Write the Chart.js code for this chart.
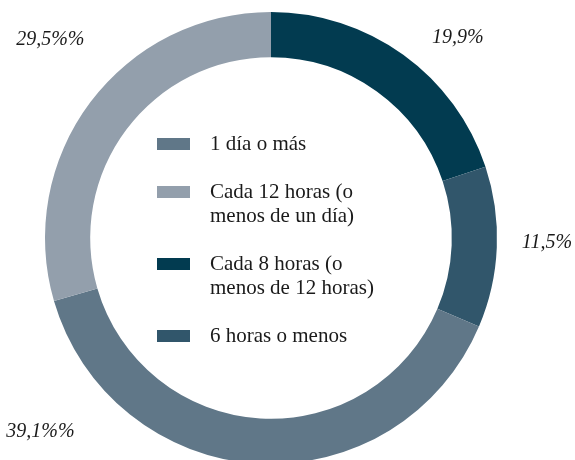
<!DOCTYPE html>
<html>
<head>
<meta charset="utf-8">
<script src="https://cdn.jsdelivr.net/npm/chart.js@4"></script>
<style>
  html, body { margin: 0; padding: 0; background: #fff; overflow: hidden; }
</style>
</head>
<body>
<canvas id="freqChart" width="575" height="464"></canvas>
<script>
// data, clockwise from 12 o'clock
const categories = [
    ['Cada 8 horas (o', 'menos de 12 horas)'],
    ['6 horas o menos'],
    ['1 día o más'],
    ['Cada 12 horas (o', 'menos de un día)']
];
const values = [19.9, 11.5, 39.1, 29.5];
const valueLabels = ['19,9%', '11,5%', '39,1%%', '29,5%%'];
const legendOrder = [2, 3, 0, 1];

const colors = ['#023b50', '#31566b', '#607788', '#939fac'];
// label placement: bearing (deg from top, clockwise) and distance from centre
const labelAngle = [43, 91, 230, 312];
const labelDist = [274, 276, 301, 297];

const serif = '"Liberation Serif", "DejaVu Serif", serif';

const innerLegend = {
    id: 'innerLegend',
    afterDraw(chart) {
        const c = chart.ctx;
        c.save();
        c.font = '21px ' + serif;
        c.textBaseline = 'middle';
        let y = 144;
        legendOrder.forEach(i => {
            c.fillStyle = colors[i];
            c.fillRect(157, y - 6, 33, 12);
            c.fillStyle = '#1a1a1a';
            categories[i].forEach((line, k) => {
                c.fillText(line, 210, y + k * 24);
            });
            y += categories[i].length * 24 + 24;
        });
        c.restore();
    }
};

const valueTags = {
    id: 'valueTags',
    afterDraw(chart) {
        const arc = chart.getDatasetMeta(0).data[0];
        const c = chart.ctx;
        c.save();
        c.font = 'italic 20px ' + serif;
        c.fillStyle = '#1a1a1a';
        c.textAlign = 'center';
        c.textBaseline = 'middle';
        valueLabels.forEach((t, i) => {
            const a = labelAngle[i] * Math.PI / 180;
            c.fillText(t, arc.x + labelDist[i] * Math.sin(a), arc.y - labelDist[i] * Math.cos(a));
        });
        c.restore();
    }
};

const ctx = document.getElementById('freqChart').getContext('2d');
const freqChart = new Chart(ctx, {
    type: 'doughnut',
    data: {
        labels: categories,
        datasets: [{
            data: values,
            backgroundColor: colors,
            borderWidth: 0,
            hoverOffset: 0,
            offset: 0
        }]
    },
    options: {
        responsive: false,
        animation: false,
        cutout: '80%',
        layout: { padding: { left: 45, right: 78, top: 12, bottom: 0 } },
        plugins: {
            legend: { display: false },
            tooltip: { enabled: false }
        }
    },
    plugins: [innerLegend, valueTags]
});
</script>
</body>
</html>
